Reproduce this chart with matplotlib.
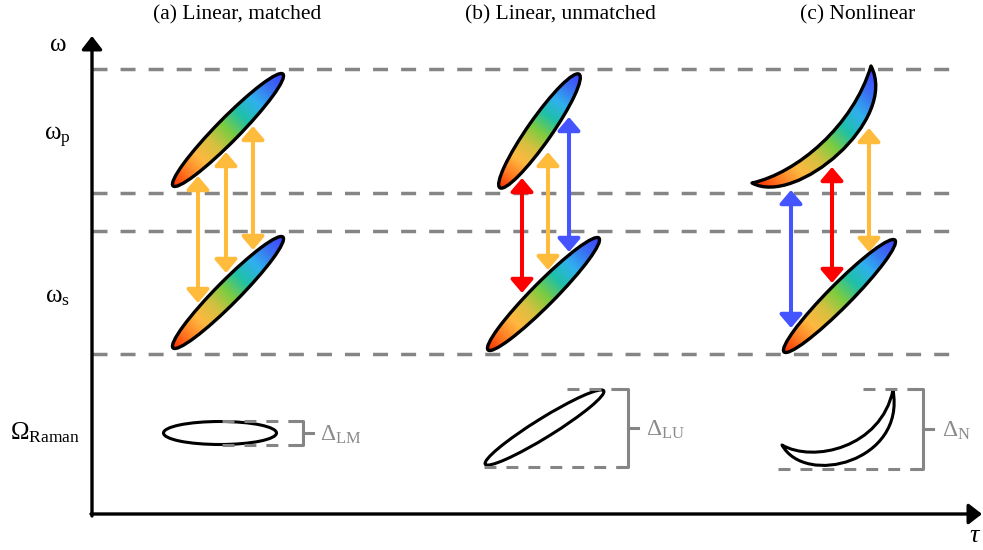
import numpy as np
import matplotlib
matplotlib.use("Agg")
import matplotlib.pyplot as plt
from matplotlib.patches import Ellipse, PathPatch, FancyArrowPatch, ArrowStyle
from matplotlib.path import Path
from matplotlib.colors import LinearSegmentedColormap

plt.rcParams['lines.scale_dashes'] = False
plt.rcParams['mathtext.fontset'] = 'custom'
plt.rcParams['mathtext.rm'] = 'Liberation Serif'
plt.rcParams['mathtext.it'] = 'Liberation Serif:italic'
plt.rcParams['font.family'] = ['Liberation Serif', 'DejaVu Serif']

# ---------------- data (pixel-space schematic) ----------------
titles = ["(a) Linear, matched", "(b) Linear, unmatched", "(c) Nonlinear"]
title_x = [237, 560, 858]
level_y = [69, 193, 231, 354]          # dashed frequency levels
y_labels = [r"$\mathrm{\omega}$", r"$\mathrm{\omega}_\mathrm{p}$",
            r"$\mathrm{\omega}_\mathrm{s}$", r"$\mathrm{\Omega}_\mathrm{Raman}$"]
y_label_pos = [(58, 45), (57, 137), (57, 297), (10, 433)]

# gradient pulses: (lower-left tip, upper-right tip, minor width)
pump_pulses = [((172, 187), (284, 73), 23), ((499, 189), (580, 73), 24)]
stokes_pulses = [((172, 349), (284, 236), 23), ((487, 351), (600, 237), 23),
                 ((783, 353), (896, 239), 23)]
# chirped pump (c): tips and Bezier controls (outer, inner)
crescent_tips = ((752, 183), (871, 66))
crescent_outer = ((796, 207), (899, 120))
crescent_inner = ((797, 173), (853, 126))

# transition arrows per panel
arrow_x = [[198, 226, 253], [522, 548, 569], [791, 832, 869]]
arrow_top = [[176, 152, 126], [178, 152, 117], [190, 167, 128]]
arrow_bot = [[303, 273, 250], [293, 270, 252], [328, 283, 252]]
arrow_col = [["#ffbb3c", "#ffbb3c", "#ffbb3c"],
             ["#ff0000", "#ffbb3c", "#4455ff"],
             ["#4455ff", "#ff0000", "#ffbb3c"]]

# Raman (difference) shapes
raman_a = ((220, 433), 113, 23)                    # center, width, height
raman_b = ((484, 465), (605, 390), 19)             # tips, minor
raman_c_tips = ((782, 445), (893, 390))
raman_c_outer = ((805, 487), (906, 462))
raman_c_inner = ((813, 463), (881, 448))

# brackets: x_start_top, x_start_bot, y_top, y_bot, x_bracket, label, label_x
brackets = [(222, 222, 421, 445, 303, r"$\mathrm{\Delta}_\mathrm{LM}$", 320),
            (567, 484, 389, 467, 628, r"$\mathrm{\Delta}_\mathrm{LU}$", 646),
            (863, 778, 389, 469, 923, r"$\mathrm{\Delta}_\mathrm{N}$", 942)]

grad_colors = ["#ff2a00", "#ff7a22", "#ffb840", "#d6c040", "#7ccc40",
               "#1fc0a8", "#30b0ee", "#3a70f2", "#4040ff"]

# ---------------- drawing ----------------
cmap = LinearSegmentedColormap.from_list("pulse", grad_colors)
fig = plt.figure(figsize=(9.83, 5.5), dpi=100)
ax = fig.add_axes([0, 0, 1, 1])
ax.set_xlim(0, 983)
ax.set_ylim(550, 0)
ax.axis('off')

GRAY = "#858585"
dash_main = (0, (10.8, 9.4))
dash_small = (0, (8.6, 7.2))

for y in level_y:
    ax.plot([92, 951], [y, y], color=GRAY, lw=2.5, ls=dash_main,
            solid_capstyle='butt', dash_capstyle='butt', zorder=1)

# axes arrows
ax.add_patch(FancyArrowPatch((92, 516), (92, 36),
             arrowstyle=ArrowStyle('-|>', head_length=0.8, head_width=0.62),
             mutation_scale=10, lw=2.4, color='k', shrinkA=0, shrinkB=0, zorder=5))
ax.add_patch(FancyArrowPatch((91, 514), (982, 514),
             arrowstyle=ArrowStyle('-|>', head_length=0.8, head_width=0.62),
             mutation_scale=10, lw=2.4, color='k', shrinkA=0, shrinkB=0, zorder=5))


def grad_fill(patch, p0, p1, bbox):
    x0, x1, y0, y1 = bbox
    xs = np.linspace(x0, x1, 240)
    ys = np.linspace(y0, y1, 240)
    X, Y = np.meshgrid(xs, ys)
    d = np.array(p1, float) - np.array(p0, float)
    t = ((X - p0[0]) * d[0] + (Y - p0[1]) * d[1]) / (d @ d)
    im = ax.imshow(np.clip(t, 0, 1), cmap=cmap, vmin=0, vmax=1,
                   extent=(x0, x1, y1, y0), origin='upper', aspect='auto',
                   interpolation='bilinear', zorder=3)
    im.set_clip_path(patch)


def tip_ellipse(p0, p1, minor, **kw):
    p0 = np.array(p0, float); p1 = np.array(p1, float)
    c = (p0 + p1) / 2
    L = np.hypot(*(p1 - p0)) - 3
    ang = np.degrees(np.arctan2(p1[1] - p0[1], p1[0] - p0[0]))
    return Ellipse(c, L, minor, angle=ang, **kw)


def crescent_path(tips, outer, inner):
    A, B = tips
    verts = [A, outer[0], outer[1], B, inner[1], inner[0], A, A]
    codes = [Path.MOVETO, Path.CURVE4, Path.CURVE4, Path.CURVE4,
             Path.CURVE4, Path.CURVE4, Path.CURVE4, Path.CLOSEPOLY]
    return Path(verts, codes)


# gradient pulses
for p0, p1, w in pump_pulses + stokes_pulses:
    e = tip_ellipse(p0, p1, w, facecolor='none', edgecolor='k', lw=2.4, zorder=4)
    ax.add_patch(e)
    grad_fill(e, p0, p1, (min(p0[0], p1[0]) - 15, max(p0[0], p1[0]) + 15,
                          min(p0[1], p1[1]) - 15, max(p0[1], p1[1]) + 15))

cp = PathPatch(crescent_path(crescent_tips, crescent_outer, crescent_inner),
               facecolor='none', edgecolor='k', lw=2.4, joinstyle='round', zorder=4)
ax.add_patch(cp)
grad_fill(cp, crescent_tips[0], crescent_tips[1], (740, 905, 55, 215))

# arrows
for xs, ts, bs, cs in zip(arrow_x, arrow_top, arrow_bot, arrow_col):
    for x, t, b, c in zip(xs, ts, bs, cs):
        ax.add_patch(FancyArrowPatch((x, b), (x, t),
                     arrowstyle=ArrowStyle('<|-|>', head_length=0.8, head_width=0.68),
                     mutation_scale=10, lw=2.9, color=c, shrinkA=0, shrinkB=0,
                     zorder=2.5))

# Raman shapes
ax.add_patch(Ellipse(raman_a[0], raman_a[1], raman_a[2], facecolor='white',
                     edgecolor='k', lw=2.2, zorder=3))
ax.add_patch(tip_ellipse(raman_b[0], raman_b[1], raman_b[2], facecolor='white',
                         edgecolor='k', lw=2.2, zorder=3))
ax.add_patch(PathPatch(crescent_path(raman_c_tips, raman_c_outer, raman_c_inner),
                       facecolor='white', edgecolor='k', lw=2.2,
                       joinstyle='round', zorder=3))

# brackets
for xst, xsb, yt, yb, xb, lab, lx in brackets:
    ax.plot([xst, xb - 6], [yt, yt], color=GRAY, lw=2.2, ls=dash_small, zorder=4)
    ax.plot([xsb, xb - 6], [yb, yb], color=GRAY, lw=2.2, ls=dash_small, zorder=4)
    ax.plot([xb - 8, xb, xb, xb - 8], [yt, yt, yb, yb], color=GRAY, lw=2.2,
            solid_joinstyle='round', zorder=4)
    ym = (yt + yb) / 2
    ax.plot([xb, xb + 10], [ym, ym], color=GRAY, lw=2.2, zorder=4)
    ax.text(lx, ym + 2, lab, fontsize=17, color="#8a8a8a", ha='left', va='center')

# texts
for t, x in zip(titles, title_x):
    ax.text(x, 15, t, fontsize=15.5, ha='center', va='center')
for lab, (x, y) in zip(y_labels, y_label_pos):
    ax.text(x, y, lab, fontsize=18, ha='left' if x < 20 else 'center', va='center')
ax.text(975, 536, r"$\tau$", fontsize=19, ha='center', va='center')

fig.savefig("out.png", dpi=100)
